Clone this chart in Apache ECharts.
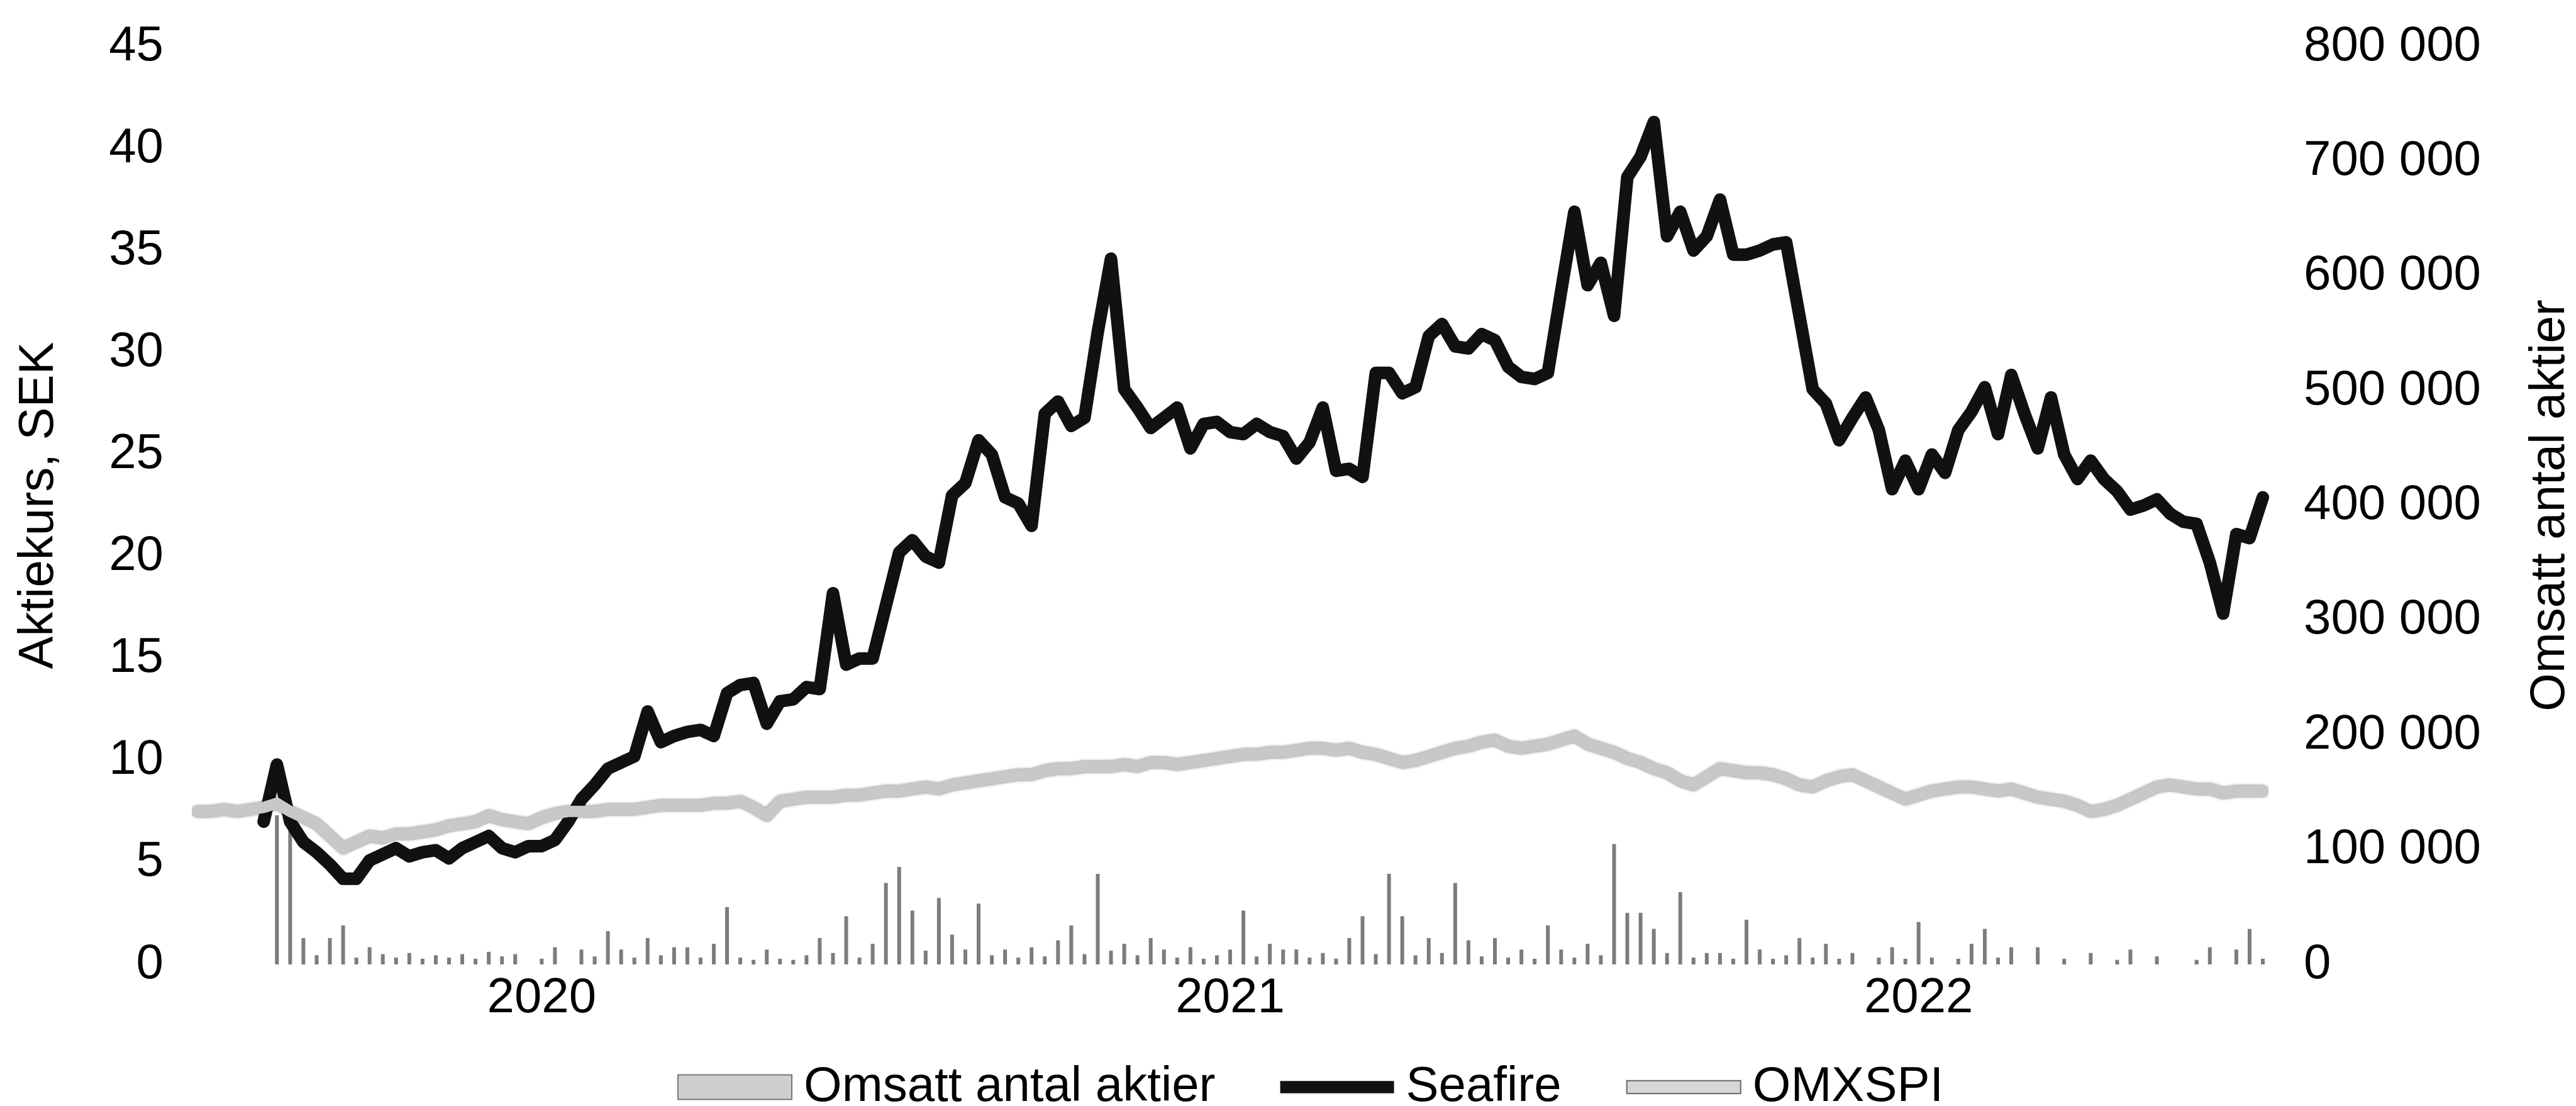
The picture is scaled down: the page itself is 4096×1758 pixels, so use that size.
<!DOCTYPE html>
<html>
<head>
<meta charset="utf-8">
<title>Seafire - aktiekurs och omsättning</title>
<script src="https://cdn.jsdelivr.net/npm/echarts@6/dist/echarts.min.js"></script>
<style>
    html, body { margin: 0; padding: 0; background: #fff; }
    #main { width: 4096px; height: 1758px; }
</style>
</head>
<body>
<div id="main"></div>
<script>
// veckovärden, första veckan = 2020-01-03
var seafire = [
    null, null, null, null, null, 7.0, 9.8, 7.0, 6.0, 5.5,
    4.9, 4.2, 4.2, 5.1, 5.4, 5.7, 5.3, 5.5, 5.6, 5.2,
    5.7, 6.0, 6.3, 5.7, 5.5, 5.8, 5.8, 6.1, 7.0, 8.1,
    8.8, 9.6, 9.9, 10.2, 12.4, 10.9, 11.2, 11.4, 11.5, 11.2,
    13.3, 13.7, 13.8, 11.8, 12.9, 13.0, 13.6, 13.5, 18.2, 14.7,
    15.0, 15.0, 17.6, 20.2, 20.8, 20.0, 19.7, 23.0, 23.6, 25.7,
    25.0, 22.9, 22.6, 21.5, 27.0, 27.6, 26.4, 26.8, 31.0, 34.6,
    28.2, 27.3, 26.3, 26.8, 27.3, 25.3, 26.5, 26.6, 26.1, 26.0,
    26.5, 26.1, 25.9, 24.8, 25.6, 27.3, 24.2, 24.3, 23.9, 29.0,
    29.0, 28.0, 28.3, 30.8, 31.4, 30.3, 30.2, 30.9, 30.6, 29.3,
    28.8, 28.7, 29.0, 33.0, 36.9, 33.3, 34.4, 31.8, 38.6, 39.6,
    41.3, 35.7, 36.9, 35.0, 35.7, 37.5, 34.8, 34.8, 35.0, 35.3,
    35.4, 31.8, 28.2, 27.5, 25.7, 26.8, 27.8, 26.2, 23.3, 24.7,
    23.3, 25.0, 24.1, 26.2, 27.1, 28.3, 26.0, 28.9, 27.0, 25.3,
    27.8, 25.0, 23.8, 24.7, 23.8, 23.2, 22.3, 22.5, 22.8, 22.1,
    21.7, 21.6, 19.7, 17.2, 21.1, 20.9, 22.9
];

var omxspi = [
    7.5, 7.5, 7.6, 7.5, 7.6, 7.7, 7.9, 7.5, 7.2, 6.9,
    6.3, 5.7, 6.0, 6.3, 6.2, 6.4, 6.4, 6.5, 6.6, 6.8,
    6.9, 7.0, 7.3, 7.1, 7.0, 6.9, 7.2, 7.4, 7.5, 7.5,
    7.5, 7.6, 7.6, 7.6, 7.7, 7.8, 7.8, 7.8, 7.8, 7.9,
    7.9, 8.0, 7.7, 7.3, 8.0, 8.1, 8.2, 8.2, 8.2, 8.3,
    8.3, 8.4, 8.5, 8.5, 8.6, 8.7, 8.6, 8.8, 8.9, 9.0,
    9.1, 9.2, 9.3, 9.3, 9.5, 9.6, 9.6, 9.7, 9.7, 9.7,
    9.8, 9.7, 9.9, 9.9, 9.8, 9.9, 10.0, 10.1, 10.2, 10.3,
    10.3, 10.4, 10.4, 10.5, 10.6, 10.6, 10.5, 10.6, 10.4, 10.3,
    10.1, 9.9, 10.0, 10.2, 10.4, 10.6, 10.7, 10.9, 11.0, 10.7,
    10.6, 10.7, 10.8, 11.0, 11.2, 10.8, 10.6, 10.4, 10.1, 9.9,
    9.6, 9.4, 9.0, 8.8, 9.2, 9.6, 9.5, 9.4, 9.4, 9.3,
    9.1, 8.8, 8.7, 9.0, 9.2, 9.3, 9.0, 8.7, 8.4, 8.1,
    8.3, 8.5, 8.6, 8.7, 8.7, 8.6, 8.5, 8.6, 8.4, 8.2,
    8.1, 8.0, 7.8, 7.5, 7.6, 7.8, 8.1, 8.4, 8.7, 8.8,
    8.7, 8.6, 8.6, 8.4, 8.5, 8.5, 8.5
];

var omsatt = [
    0, 0, 0, 0, 0, 0, 130000, 120000, 23000, 8000,
    23000, 34000, 6000, 15000, 9000, 6000, 10000, 5000, 8000, 6000,
    9000, 5000, 11000, 7000, 9000, 0, 5000, 15000, 0, 13000,
    7000, 29000, 13000, 6000, 23000, 8000, 15000, 15000, 6000, 18000,
    50000, 6000, 4000, 13000, 5000, 4000, 8000, 23000, 10000, 42000,
    6000, 18000, 71000, 85000, 47000, 12000, 58000, 26000, 13000, 53000,
    8000, 13000, 6000, 15000, 7000, 21000, 34000, 9000, 79000, 12000,
    18000, 8000, 23000, 13000, 6000, 15000, 5000, 8000, 13000, 47000,
    7000, 18000, 13000, 13000, 6000, 10000, 5000, 23000, 42000, 9000,
    79000, 42000, 8000, 23000, 10000, 71000, 21000, 7000, 23000, 6000,
    13000, 5000, 34000, 13000, 6000, 18000, 8000, 105000, 45000, 45000,
    31000, 10000, 63000, 6000, 10000, 10000, 5000, 39000, 13000, 5000,
    8000, 23000, 6000, 18000, 5000, 10000, 0, 6000, 15000, 5000,
    37000, 6000, 0, 5000, 18000, 31000, 6000, 15000, 0, 15000,
    0, 5000, 0, 10000, 0, 4000, 13000, 0, 7000, 0,
    0, 4000, 15000, 0, 13000, 31000, 5000
];

// veckodatum för kategoriaxeln
var weeks = [];
var d = new Date(Date.UTC(2020, 0, 3));
for (var i = 0; i < seafire.length; i++) {
    weeks.push(d.toISOString().slice(0, 10));
    d.setUTCDate(d.getUTCDate() + 7);
}

var font = 'Liberation Sans, Arial, sans-serif';
var fs = 78;

function spaced(v) {
    return String(v).replace(/\B(?=(\d{3})+(?!\d))/g, ' ');
}

var myChart = echarts.init(document.getElementById('main'));
myChart.setOption({
    animation: false,
    backgroundColor: '#fff',
    textStyle: { fontFamily: font, color: '#000' },
    grid: {
        left: 314,
        right: 498,
        top: 74,
        bottom: 225,
        containLabel: false,
        outerBoundsMode: 'none'
    },
    legend: {
        left: 1072,
        top: 1684,
        itemWidth: 181,
        itemHeight: 40,
        itemGap: 103,
        textStyle: {
            fontFamily: font,
            fontSize: fs,
            lineHeight: fs,
            color: '#000',
            padding: [0, 0, 0, 14]
        },
        data: [
            { name: 'Omsatt antal aktier', icon: 'path://M0,0H233V50H0Z',
              itemStyle: { color: '#cfcfcf', borderColor: '#777', borderWidth: 2 } },
            { name: 'Seafire', icon: 'path://M0,0H233V25H0Z' },
            { name: 'OMXSPI', icon: 'path://M0,0H237V27H0Z',
              itemStyle: { color: '#d6d6d6', borderColor: '#666', borderWidth: 2 } }
        ]
    },
    xAxis: {
        type: 'category',
        data: weeks,
        boundaryGap: false,
        axisLine: { show: false },
        axisTick: { show: false },
        splitLine: { show: false },
        axisLabel: {
            fontFamily: font,
            fontSize: fs,
            lineHeight: fs,
            color: '#000',
            margin: 15,
            interval: function (idx, val) {
                return val.slice(5, 7) === '07' && +val.slice(8, 10) <= 7;
            },
            formatter: function (val) {
                return val.slice(0, 4);
            }
        }
    },
    yAxis: [{
        type: 'value',
        min: 0,
        max: 45,
        interval: 5,
        name: 'Aktiekurs, SEK',
        nameLocation: 'middle',
        nameRotate: 90,
        nameGap: 213,
        nameTextStyle: { fontFamily: font, fontSize: fs, lineHeight: fs, color: '#000' },
        axisLine: { show: false },
        axisTick: { show: false },
        splitLine: { show: false },
        axisLabel: { fontFamily: font, fontSize: fs, color: '#000', margin: 54 }
    }, {
        type: 'value',
        position: 'right',
        min: 0,
        max: 800000,
        interval: 100000,
        name: 'Omsatt antal aktier',
        nameLocation: 'middle',
        nameRotate: 90,
        nameGap: 418,
        nameTextStyle: { fontFamily: font, fontSize: fs, lineHeight: fs, color: '#000' },
        axisLine: { show: false },
        axisTick: { show: false },
        splitLine: { show: false },
        axisLabel: {
            fontFamily: font,
            fontSize: fs,
            color: '#000',
            margin: 65,
            formatter: spaced
        }
    }],
    series: [{
        name: 'Omsatt antal aktier',
        type: 'bar',
        yAxisIndex: 1,
        data: omsatt,
        barWidth: 6,
        itemStyle: { color: '#7c7c7c' },
        silent: true
    }, {
        name: 'Seafire',
        type: 'line',
        data: seafire,
        color: '#111',
        symbol: 'none',
        connectNulls: false,
        lineStyle: { color: '#111', width: 20, join: 'round', cap: 'round' },
        silent: true
    }, {
        name: 'OMXSPI',
        type: 'line',
        data: omxspi,
        color: '#c8c8c8',
        symbol: 'none',
        lineStyle: {
            color: '#c8c8c8',
            width: 18,
            join: 'round',
            cap: 'round',
            shadowColor: 'rgba(0, 0, 0, 0.55)',
            shadowBlur: 4
        },
        silent: true
    }]
});
</script>
</body>
</html>
